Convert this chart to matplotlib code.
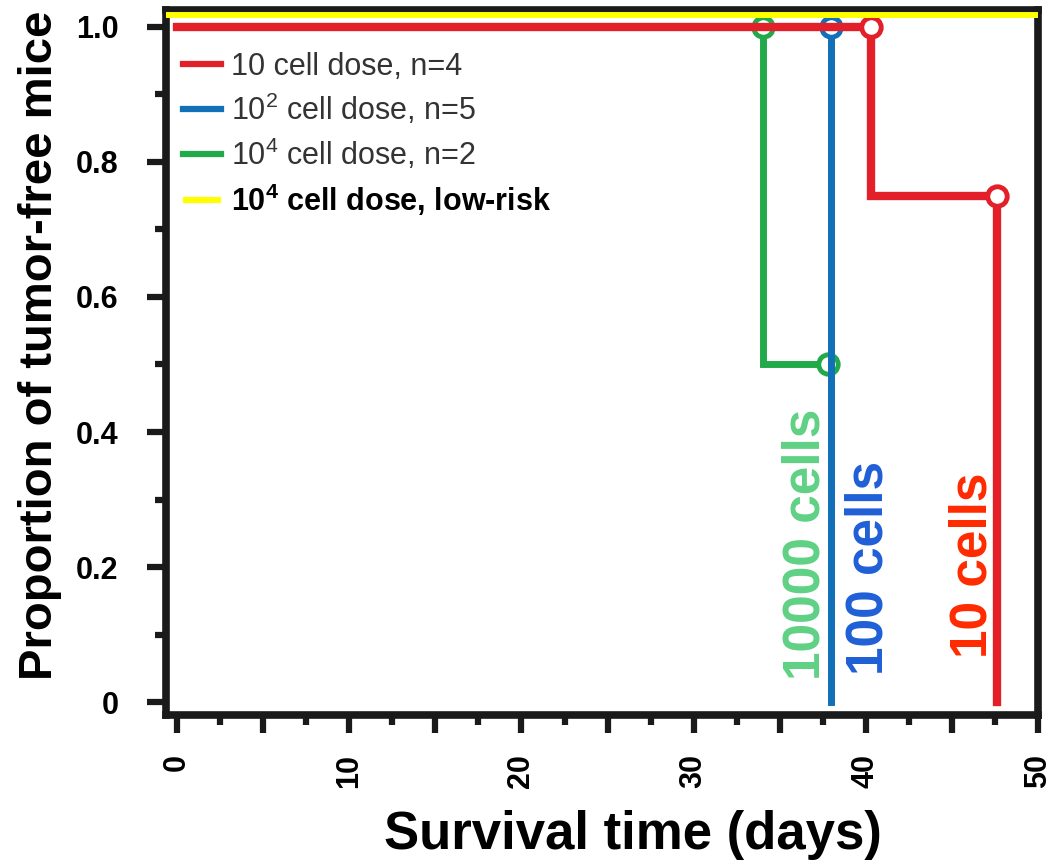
import matplotlib
matplotlib.use("Agg")
import matplotlib.pyplot as plt
import matplotlib.transforms as mtransforms
from matplotlib.ticker import MultipleLocator, FixedLocator, FixedFormatter

plt.rcParams['font.family'] = ['Liberation Sans', 'DejaVu Sans']
plt.rcParams['mathtext.fontset'] = 'custom'
plt.rcParams['mathtext.rm'] = 'Liberation Sans'
plt.rcParams['mathtext.bf'] = 'Liberation Sans:bold'
plt.rcParams['mathtext.it'] = 'Liberation Sans:italic'

# ---- data ----
red_times = [0, 40.3, 47.6]
red_surv = [1.0, 0.75, 0.0]
red_cens_t = [40.3, 47.6]
red_cens_s = [1.0, 0.75]

blue_times = [0, 38.0]
blue_surv = [1.0, 0.0]
blue_cens_t = [38.0]
blue_cens_s = [1.0]

green_times = [0, 34.0, 37.8]
green_surv = [1.0, 0.5, 0.5]
green_cens_t = [34.0, 37.8]
green_cens_s = [1.0, 0.5]

lowrisk_value = 1.0

legend_labels = ["10 cell dose, n=4", r"10$^2$ cell dose, n=5",
                 r"10$^4$ cell dose, n=2", r"10$^{\mathbf{4}}$ cell dose, low-risk"]
annot_texts = ["10000 cells", "100 cells", "10 cells"]
annot_x = [36.5, 40.2, 46.2]
annot_y = [0.033, 0.040, 0.065]

x_major = [0, 5, 10, 15, 20, 25, 30, 35, 40, 45, 50]
x_labels = ["0", "", "10", "", "20", "", "30", "", "40", "", "50"]
y_major = [0, 0.2, 0.4, 0.6, 0.8, 1.0]
y_labels = ["0", "0.2", "0.4", "0.6", "0.8", "1.0"]

RED = '#e3202a'
BLUE = '#1170b8'
GREEN = '#22aa4a'
YELLOW = '#ffff00'
colors_text = ['#5fd184', '#1f5fd6', '#ff2a00']

fig = plt.figure(figsize=(10.57, 8.63), dpi=100)
ax = fig.add_axes([0.157, 0.1715, 0.825, 0.817])

lw = 5.0
ms = 14
mew = 3.5

# green
lg, = ax.step(green_times, green_surv, where='post', color=GREEN, lw=lw,
              solid_joinstyle='miter', label=legend_labels[2], zorder=2)
ax.plot(green_cens_t, green_cens_s, 'o', ms=ms, mfc='white', mec=GREEN, mew=mew,
        ls='none', zorder=2)
# blue
lb, = ax.step(blue_times, blue_surv, where='post', color=BLUE, lw=lw,
              solid_joinstyle='miter', label=legend_labels[1], zorder=2.1)
ax.plot(blue_cens_t, blue_cens_s, 'o', ms=ms, mfc='white', mec=BLUE, mew=mew,
        ls='none', zorder=2.1)
# red
lr, = ax.step(red_times, red_surv, where='post', color=RED, lw=lw + 1,
              solid_joinstyle='miter', label=legend_labels[0], zorder=2.2)
ax.plot(red_cens_t, red_cens_s, 'o', ms=ms, mfc='white', mec=RED, mew=mew,
        ls='none', zorder=2.3)

# low-risk (drawn just above the 1.0 level, spanning the axes)
trans = mtransforms.blended_transform_factory(ax.transAxes, ax.transData) + \
    mtransforms.ScaledTranslation(0, 12 / 100, fig.dpi_scale_trans)
ly, = ax.plot([0, 1], [lowrisk_value, lowrisk_value], color=YELLOW, lw=4.3,
              transform=trans, clip_on=False, zorder=3, label=legend_labels[3],
              solid_capstyle='butt')

ax.set_xlim(-0.65, 50)
ax.set_ylim(-0.019, 1.025)

for sp in ax.spines.values():
    sp.set_linewidth(5.5)
    sp.set_color('#1a1a1a')

ax.xaxis.set_major_locator(FixedLocator(x_major))
ax.xaxis.set_major_formatter(FixedFormatter(x_labels))
ax.xaxis.set_minor_locator(MultipleLocator(2.5))
ax.yaxis.set_major_locator(FixedLocator(y_major))
ax.yaxis.set_major_formatter(FixedFormatter(y_labels))
ax.yaxis.set_minor_locator(MultipleLocator(0.1))

ax.tick_params(axis='x', which='major', length=13, width=4.5, direction='out',
               pad=15, labelsize=22, color='#1a1a1a')
ax.tick_params(axis='x', which='minor', length=7, width=4.5, direction='out',
               color='#1a1a1a')
ax.tick_params(axis='y', which='major', length=14, width=4.5, direction='out',
               pad=20, labelsize=22, color='#1a1a1a')
ax.tick_params(axis='y', which='minor', length=8, width=4.5, direction='out',
               color='#1a1a1a')
for t in ax.get_xticklabels():
    t.set_rotation(90)
    t.set_fontweight('bold')
for t in ax.get_yticklabels():
    t.set_fontweight('bold')

ax.set_xlabel("Survival time (days)", fontsize=38, fontweight='bold')
ax.xaxis.label.set_va('baseline')
ax.xaxis.set_label_coords(0.5356, -0.1900)
ax.set_ylabel("Proportion of tumor-free mice", fontsize=34, fontweight='bold')
ax.yaxis.set_label_coords(-0.119, 0.525)

for txt, xx, yy, c in zip(annot_texts, annot_x, annot_y, colors_text):
    ax.text(xx, yy, txt, rotation=90, ha='center', va='bottom', color=c,
            fontsize=37, fontweight='bold', zorder=4)

leg = ax.legend(handles=[lr, lb, lg, ly], loc='upper left',
                bbox_to_anchor=(0.0195, 0.941), frameon=False, fontsize=22,
                handlelength=1.25, handletextpad=0.33, labelspacing=0.32,
                borderpad=0, borderaxespad=0)
for i, t in enumerate(leg.get_texts()):
    if i < 3:
        t.set_color('#333333')
    else:
        t.set_color('black')
        t.set_fontweight('bold')
for h in leg.legend_handles:
    h.set_linewidth(4.5)

fig.savefig("out.png", dpi=100)
